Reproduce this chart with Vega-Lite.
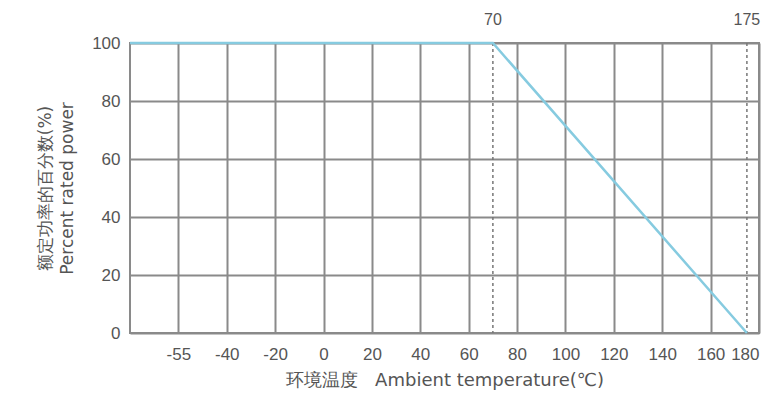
{
  "$schema": "https://vega.github.io/schema/vega-lite/v6.json",
  "width": 629,
  "height": 290,
  "autosize": {"type": "none"},
  "padding": {"left": 130, "top": 43, "right": 16, "bottom": 67},
  "background": "white",
  "config": {
    "view": {"stroke": "#8a8a8a", "strokeWidth": 2},
    "font": "Liberation Sans"
  },
  "datasets": {
    "curve": [
      {"temp": -80, "power": 100},
      {"temp": 70, "power": 100},
      {"temp": 175, "power": 0}
    ],
    "marks": [
      {"temp": 70, "label": "70", "power": 100},
      {"temp": 175, "label": "175", "power": 100}
    ]
  },
  "layer": [
    {
      "data": {"name": "marks"},
      "mark": {"type": "rule", "color": "#777777", "strokeWidth": 1.5, "strokeDash": [3, 3]},
      "encoding": {
        "x": {
          "field": "temp",
          "type": "quantitative",
          "scale": {"domain": [-80, 180], "nice": false, "zero": false},
          "axis": {
            "title": "环境温度\u00a0\u00a0\u00a0Ambient temperature(℃)",
            "titleFont": "DejaVu Sans",
            "titleFontSize": 18,
            "titleFontWeight": "normal",
            "titleColor": "#555555",
            "titlePadding": 9,
            "values": [-60, -40, -20, 0, 20, 40, 60, 80, 100, 120, 140, 160, 180],
            "labelExpr": "datum.value == -60 ? '-55' : toString(datum.value)",
            "labelFontSize": 17,
            "labelColor": "#555555",
            "labelPadding": 13,
            "ticks": false,
            "domain": false,
            "grid": true,
            "gridColor": "#8a8a8a",
            "gridWidth": 2,
            "gridOpacity": 1
          }
        },
        "y": {
          "field": "power",
          "type": "quantitative",
          "scale": {"domain": [0, 100], "nice": false},
          "axis": {
            "title": ["额定功率的百分数(%)", "Percent rated power"],
            "titleFont": "DejaVu Sans",
            "titleFontSize": 17,
            "titleFontWeight": "normal",
            "titleColor": "#555555",
            "titleLineHeight": 22,
            "titlePadding": 15,
            "values": [0, 20, 40, 60, 80, 100],
            "labelFontSize": 17,
            "labelColor": "#555555",
            "labelPadding": 10,
            "ticks": false,
            "domain": false,
            "grid": true,
            "gridColor": "#8a8a8a",
            "gridWidth": 2,
            "gridOpacity": 1
          }
        }
      }
    },
    {
      "data": {"name": "marks"},
      "mark": {"type": "text", "dy": -23, "fontSize": 16, "color": "#555555", "baseline": "middle", "align": "center"},
      "encoding": {
        "x": {"field": "temp", "type": "quantitative"},
        "y": {"field": "power", "type": "quantitative"},
        "text": {"field": "label", "type": "nominal"}
      }
    },
    {
      "data": {"name": "curve"},
      "mark": {"type": "line", "color": "#86cbe0", "strokeWidth": 2.5},
      "encoding": {
        "x": {"field": "temp", "type": "quantitative"},
        "y": {"field": "power", "type": "quantitative"}
      }
    }
  ]
}
